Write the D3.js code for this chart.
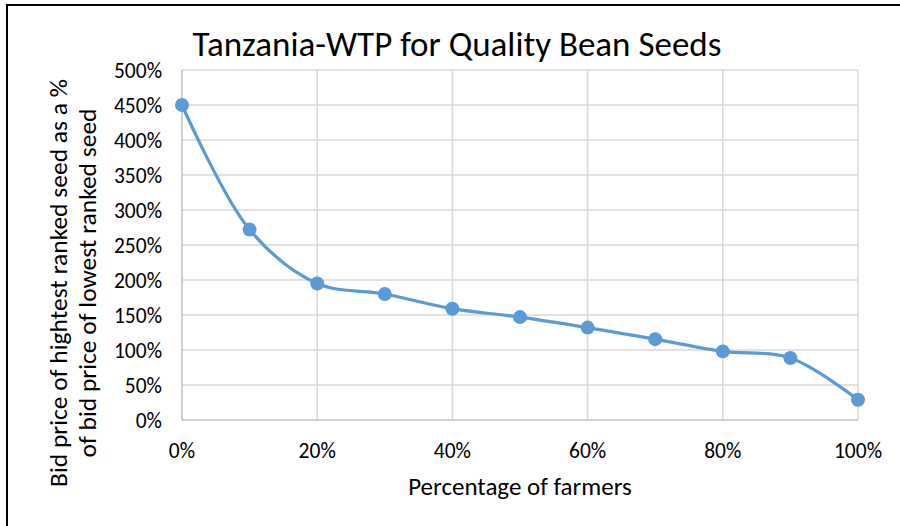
<!doctype html>
<html>
<head>
<style>
  body { margin: 0; background: #fff; }
  text { font-family: Carlito, Lato, "Open Sans", sans-serif; fill: #000; }
</style>
<script src="https://d3js.org/d3.v7.min.js"></script>
</head>
<body>
<svg width="900" height="526" class="chart"></svg>
<script>
// data
var farmers = [0, 0.1, 0.2, 0.3, 0.4, 0.5, 0.6, 0.7, 0.8, 0.9, 1.0];
var bidRatio = [4.50, 2.72, 1.95, 1.80, 1.59, 1.47, 1.32, 1.155, 0.98, 0.885, 0.29];
var yTicks = [0, 0.5, 1, 1.5, 2, 2.5, 3, 3.5, 4, 4.5, 5];
var xTicks = [0, 0.2, 0.4, 0.6, 0.8, 1.0];

var svg = d3.select(".chart");

// outer chart frame (right/bottom edges fall outside the picture)
svg.append("rect")
   .attr("x", 7).attr("y", 5)
   .attr("width", 920).attr("height", 540)
   .attr("fill", "#fff")
   .attr("stroke", "#000")
   .attr("stroke-width", 2);

var plotL = 182, plotR = 858, plotT = 70, plotB = 420;

var x = d3.scaleLinear().domain([0, 1]).range([plotL, plotR]);
var y = d3.scaleLinear().domain([0, 5]).range([plotB, plotT]);

var fmt = d3.format(".0%");

// gridlines
svg.append("g")
   .selectAll("line")
   .data(yTicks.slice(1))
   .enter().append("line")
   .attr("x1", plotL).attr("x2", plotR)
   .attr("y1", function(d) { return y(d); })
   .attr("y2", function(d) { return y(d); })
   .attr("stroke", "#d9d9d9")
   .attr("stroke-width", 1.5);

svg.append("g")
   .selectAll("line")
   .data(xTicks.slice(1))
   .enter().append("line")
   .attr("y1", plotT).attr("y2", plotB)
   .attr("x1", function(d) { return x(d); })
   .attr("x2", function(d) { return x(d); })
   .attr("stroke", "#d9d9d9")
   .attr("stroke-width", 1.5);

// axis lines
svg.append("line")
   .attr("x1", plotL).attr("x2", plotL)
   .attr("y1", plotT).attr("y2", plotB)
   .attr("stroke", "#bfbfbf").attr("stroke-width", 1.5);
svg.append("line")
   .attr("x1", plotL).attr("x2", plotR)
   .attr("y1", plotB).attr("y2", plotB)
   .attr("stroke", "#bfbfbf").attr("stroke-width", 1.5);

// tick labels
svg.append("g")
   .selectAll("text")
   .data(yTicks)
   .enter().append("text")
   .attr("x", plotL - 20)
   .attr("y", function(d) { return y(d); })
   .attr("dy", "0.35em")
   .attr("text-anchor", "end")
   .attr("font-size", "21.5px")
   .text(function(d) { return fmt(d); });

svg.append("g")
   .selectAll("text")
   .data(xTicks)
   .enter().append("text")
   .attr("x", function(d) { return x(d); })
   .attr("y", 458)
   .attr("text-anchor", "middle")
   .attr("font-size", "21.5px")
   .text(function(d) { return fmt(d); });

// the series
var pts = farmers.map(function(f, i) { return [f, bidRatio[i]]; });

var line = d3.line()
    .x(function(d) { return x(d[0]); })
    .y(function(d) { return y(d[1]); })
    .curve(d3.curveCatmullRom.alpha(0.5));

svg.append("path")
   .datum(pts)
   .attr("d", line)
   .attr("fill", "none")
   .attr("stroke", "#5b9bd5")
   .attr("stroke-width", 3.2);

svg.append("g")
   .selectAll("circle")
   .data(pts)
   .enter().append("circle")
   .attr("cx", function(d) { return x(d[0]); })
   .attr("cy", function(d) { return y(d[1]); })
   .attr("r", 7)
   .attr("fill", "#5b9bd5");

// titles
svg.append("text")
   .attr("x", 457)
   .attr("y", 56)
   .attr("text-anchor", "middle")
   .attr("font-size", "35px")
   .text("Tanzania-WTP for Quality Bean Seeds");

svg.append("text")
   .attr("x", 520)
   .attr("y", 495)
   .attr("text-anchor", "middle")
   .attr("font-size", "25px")
   .text("Percentage of farmers");

var yTitle = svg.append("text")
   .attr("transform", "translate(67,283) rotate(-90)")
   .attr("text-anchor", "middle")
   .attr("font-size", "25.5px");
yTitle.append("tspan").attr("x", 0).attr("y", 0)
   .text("Bid price of hightest ranked seed as a %");
yTitle.append("tspan").attr("x", 0).attr("y", 29)
   .text("of bid price of lowest ranked seed");
</script>
</body>
</html>
